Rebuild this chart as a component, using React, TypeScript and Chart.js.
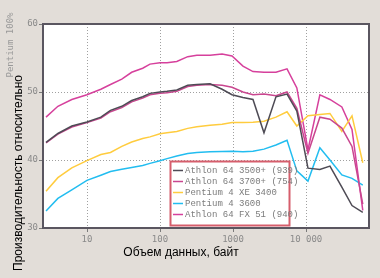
import React, { useEffect, useRef } from 'react';
import { Chart, registerables } from 'chart.js';

Chart.register(...registerables);

// Data size (bytes), log axis
const sizes = [2.75, 4, 6.2, 10, 15.5, 21, 30, 41, 58, 73, 100, 125, 170, 240, 320, 485, 710, 970, 1370, 1880, 2660, 3880, 5500, 7500, 10650, 15500, 21300, 31000, 42700, 60000];

const athlon3500 = [42.6, 43.9, 45.0, 45.6, 46.3, 47.3, 47.9, 48.75, 49.3, 49.8, 50.0, 50.1, 50.3, 51.0, 51.1, 51.2, 50.4, 49.6, 49.2, 48.9, 44.0, 49.3, 49.7, 47.2, 38.8, 38.6, 39.1, 36.0, 33.3, 32.3];
const athlon3700 = [42.5, 43.8, 44.85, 45.5, 46.15, 47.1, 47.7, 48.55, 49.1, 49.6, 49.8, 49.9, 50.1, 50.8, 51.0, 51.1, 51.0, 50.7, 50.0, 49.6, 49.7, 49.45, 50.0, 47.6, 41.0, 46.3, 46.0, 44.7, 42.0, 33.5];
const p4xe3400 = [35.4, 37.4, 38.85, 39.9, 40.8, 41.1, 42.0, 42.65, 43.15, 43.4, 43.85, 44.0, 44.2, 44.65, 44.9, 45.1, 45.25, 45.5, 45.5, 45.55, 45.7, 46.3, 47.1, 45.0, 46.5, 46.7, 46.85, 44.2, 46.5, 39.6];
const p43600 = [32.5, 34.35, 35.6, 37.0, 37.75, 38.3, 38.65, 38.9, 39.2, 39.5, 39.9, 40.2, 40.6, 40.95, 41.1, 41.2, 41.25, 41.3, 41.2, 41.3, 41.6, 42.2, 42.9, 38.4, 36.9, 41.8, 40.0, 37.8, 37.3, 36.3];
const athlonFX51 = [46.3, 47.9, 48.9, 49.6, 50.4, 51.1, 51.9, 52.9, 53.5, 54.1, 54.3, 54.3, 54.5, 55.2, 55.4, 55.4, 55.6, 55.3, 53.8, 53.0, 52.9, 52.9, 53.4, 50.6, 41.5, 49.6, 48.9, 47.8, 44.5, 32.6];

const seriesLabels = ['Athlon 64 3500+ (939)', 'Athlon 64 3700+ (754)', 'Pentium 4 XE 3400', 'Pentium 4 3600', 'Athlon 64 FX 51 (940)'];
const seriesColors = ['#4e4b55', '#c9468f', '#ffcc3e', '#22bdf0', '#d6409c'];
const seriesValues = [athlon3500, athlon3700, p4xe3400, p43600, athlonFX51];

const xTickValues = [10, 100, 1000, 10000];
const yTickValues = [30, 40, 50, 60];

const xTitle = 'Объем данных, байт';
const yTitle = 'Производительность относительно';
const yTitle2 = 'Pentium 100%';

const BG = '#e2ddd8';

const fmtX = (v: number) => (v >= 10000 ? String(v).replace(/(\d)(?=(\d{3})+$)/g, '$1 ') : String(v));

const decorPlugin = {
  id: 'decor',
  beforeDraw(chart: any) {
    const { ctx, width, height, chartArea: a } = chart;
    const xs = chart.scales.x;
    const ys = chart.scales.y;
    ctx.save();
    ctx.fillStyle = BG;
    ctx.fillRect(0, 0, width, height);
    ctx.fillStyle = '#ffffff';
    ctx.fillRect(a.left, a.top, a.right - a.left, a.bottom - a.top);
    // dotted grid
    ctx.strokeStyle = '#a0a0a0';
    ctx.lineWidth = 1;
    ctx.setLineDash([1, 2]);
    xTickValues.forEach((v) => {
      const px = Math.round(xs.getPixelForValue(v)) + 0.5;
      ctx.beginPath();
      ctx.moveTo(px, a.top);
      ctx.lineTo(px, a.bottom);
      ctx.stroke();
    });
    yTickValues.forEach((v) => {
      const py = Math.round(ys.getPixelForValue(v)) + 0.5;
      ctx.beginPath();
      ctx.moveTo(a.left, py);
      ctx.lineTo(a.right, py);
      ctx.stroke();
    });
    ctx.setLineDash([]);
    // tick marks
    ctx.strokeStyle = '#7a7a7a';
    xTickValues.forEach((v) => {
      const px = Math.round(xs.getPixelForValue(v)) + 0.5;
      ctx.beginPath();
      ctx.moveTo(px, a.bottom);
      ctx.lineTo(px, a.bottom + 4);
      ctx.stroke();
    });
    yTickValues.forEach((v) => {
      const py = Math.round(ys.getPixelForValue(v)) + 0.5;
      ctx.beginPath();
      ctx.moveTo(a.left - 4, py);
      ctx.lineTo(a.left, py);
      ctx.stroke();
    });
    ctx.restore();
  },
  afterDatasetsDraw(chart: any) {
    const { ctx, chartArea: a } = chart;
    ctx.save();
    // frame
    ctx.strokeStyle = '#5a5660';
    ctx.lineWidth = 2;
    ctx.strokeRect(a.left, a.top, a.right - a.left, a.bottom - a.top);

    // legend box
    const lx = 170.5, ly = 161.5, lw = 119, lh = 64;
    ctx.fillStyle = '#ffffff';
    ctx.fillRect(lx, ly, lw, lh);
    ctx.strokeStyle = '#d65e6c';
    ctx.lineWidth = 2;
    ctx.strokeRect(lx, ly, lw, lh);
    ctx.font = '9px "Liberation Mono", monospace';
    ctx.textBaseline = 'middle';
    ctx.textAlign = 'left';
    chart.data.datasets.forEach((ds: any, i: number) => {
      const y = 170 + i * 11;
      ctx.strokeStyle = ds.borderColor;
      ctx.lineWidth = 1.5;
      ctx.beginPath();
      ctx.moveTo(173, y + 0.5);
      ctx.lineTo(183, y + 0.5);
      ctx.stroke();
      ctx.fillStyle = '#7c7c7c';
      ctx.fillText(ds.label, 185, y + 0.5);
    });

    // axis titles
    ctx.fillStyle = '#000000';
    ctx.font = '12px "Liberation Sans", Arial, sans-serif';
    ctx.textAlign = 'center';
    ctx.textBaseline = 'middle';
    ctx.fillText(xTitle, 181, 253);

    ctx.save();
    ctx.translate(19, 173);
    ctx.rotate(-Math.PI / 2);
    ctx.fillText(yTitle, 0, 0);
    ctx.restore();

    ctx.save();
    ctx.translate(10.5, 45);
    ctx.rotate(-Math.PI / 2);
    ctx.fillStyle = '#9a9a9a';
    ctx.font = '9px "DejaVu Sans Mono", monospace';
    ctx.fillText(yTitle2, 0, 0);
    ctx.restore();

    ctx.restore();
  },
};

export default function App() {
  const ref = useRef<HTMLCanvasElement | null>(null);
  useEffect(() => {
    if (!ref.current) return;
    const chart = new Chart(ref.current, {
      type: 'line',
      data: {
        datasets: seriesValues.map((vals, i) => ({
          label: seriesLabels[i],
          data: sizes.map((s, j) => ({ x: s, y: vals[j] })),
          borderColor: seriesColors[i],
          backgroundColor: seriesColors[i],
          borderWidth: 1.5,
          pointRadius: 0,
          tension: 0,
          fill: false,
        })),
      },
      options: {
        responsive: false,
        animation: false,
        events: [],
        layout: { padding: { left: 0, top: 24, right: 11, bottom: 0 } },
        plugins: {
          legend: { display: false },
          tooltip: { enabled: false },
          title: { display: false },
        },
        scales: {
          x: {
            type: 'logarithmic',
            min: 2.5,
            max: 73000,
            grid: { display: false, drawTicks: false },
            border: { display: false },
            afterBuildTicks: (s: any) => {
              s.ticks = xTickValues.map((v) => ({ value: v, major: true }));
            },
            afterFit: (s: any) => {
              s.height = 50;
            },
            ticks: {
              autoSkip: false,
              maxRotation: 0,
              padding: 6,
              color: '#8a8a8a',
              font: { family: '"DejaVu Sans Mono", monospace', size: 9 },
              callback: (v: any) => fmtX(Number(v)),
            },
          },
          y: {
            type: 'linear',
            min: 30,
            max: 60,
            grid: { display: false, drawTicks: false },
            border: { display: false },
            afterBuildTicks: (s: any) => {
              s.ticks = yTickValues.map((v) => ({ value: v }));
            },
            afterFit: (s: any) => {
              s.width = 43;
            },
            ticks: {
              padding: 5,
              color: '#8a8a8a',
              font: { family: '"DejaVu Sans Mono", monospace', size: 9 },
            },
          },
        },
      },
      plugins: [decorPlugin],
    } as any);
    return () => chart.destroy();
  }, []);
  return (
    <div style={{ position: 'fixed', left: 0, top: 0, width: 380, height: 278, background: BG }}>
      <canvas ref={ref} width={380} height={278} style={{ display: 'block', width: 380, height: 278 }} />
    </div>
  );
}
